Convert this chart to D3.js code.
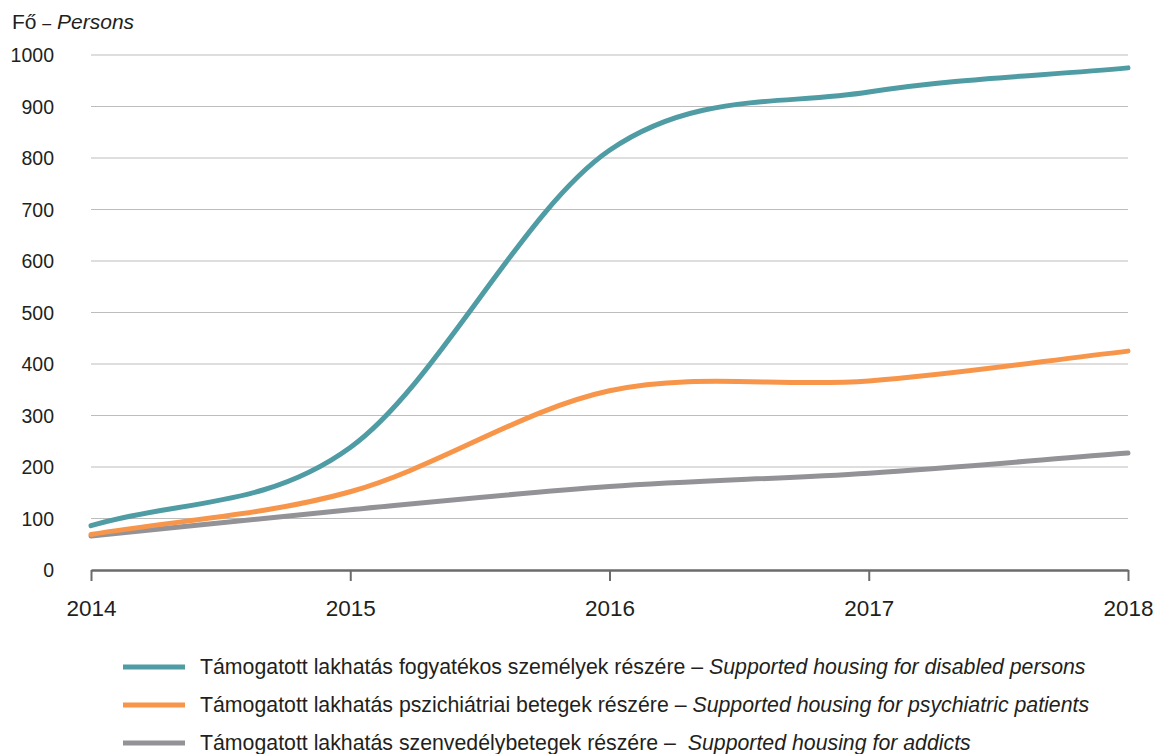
<!DOCTYPE html>
<html>
<head>
<meta charset="utf-8">
<script src="https://cdn.jsdelivr.net/npm/d3@7"></script>
<style>
  html, body { margin: 0; padding: 0; background: #fff; }
  svg { display: block; font-family: "Liberation Sans", Arial, sans-serif; }
</style>
</head>
<body>
<svg id="chart" width="1159" height="754"></svg>
<script>
const years = [2014, 2015, 2016, 2017, 2018];
const disabled = [86, 238, 815, 928, 975];
const psychiatric = [69, 152, 348, 367, 425];
const addicts = [66, 117, 162, 188, 227];
const yTicks = [0, 100, 200, 300, 400, 500, 600, 700, 800, 900, 1000];
const seriesNames = [
  ["Támogatott lakhatás fogyatékos személyek részére – ", "Supported housing for disabled persons"],
  ["Támogatott lakhatás pszichiátriai betegek részére – ", "Supported housing for psychiatric patients"],
  ["Támogatott lakhatás szenvedélybetegek részére –  ", "Supported housing for addicts"]
];
const colors = ["#4f9ca4", "#f7964a", "#939297"];

const svg = d3.select("#chart");
const x = d3.scaleLinear().domain([2014, 2018]).range([91, 1128]);
const y = d3.scaleLinear().domain([0, 1000]).range([570, 55]);

// Excel-like smoothing: Catmull-Rom inner tangents, chord tangents at ends
function excelCurve(context) {
  let pts = [];
  return {
    areaStart() {}, areaEnd() {},
    lineStart() { pts = []; },
    point(px, py) { pts.push([+px, +py]); },
    lineEnd() {
      const n = pts.length;
      if (!n) return;
      context.moveTo(pts[0][0], pts[0][1]);
      const get = i => {
        if (i < 0) return [2 * pts[0][0] - pts[1][0], 2 * pts[0][1] - pts[1][1]];
        if (i >= n) return [2 * pts[n - 1][0] - pts[n - 2][0], 2 * pts[n - 1][1] - pts[n - 2][1]];
        return pts[i];
      };
      for (let i = 0; i < n - 1; i++) {
        const p0 = get(i - 1), p1 = get(i), p2 = get(i + 1), p3 = get(i + 2);
        context.bezierCurveTo(
          p1[0] + (p2[0] - p0[0]) / 6, p1[1] + (p2[1] - p0[1]) / 6,
          p2[0] - (p3[0] - p1[0]) / 6, p2[1] - (p3[1] - p1[1]) / 6,
          p2[0], p2[1]);
      }
    }
  };
}

// gridlines
svg.append("g")
  .selectAll("line")
  .data(yTicks.filter(d => d > 0))
  .join("line")
  .attr("x1", x(2014)).attr("x2", x(2018))
  .attr("y1", d => y(d)).attr("y2", d => y(d))
  .attr("stroke", "#bdbdbd").attr("stroke-width", 1.2);

// y labels
svg.append("g")
  .selectAll("text")
  .data(yTicks)
  .join("text")
  .attr("x", 54).attr("y", d => y(d) + 7)
  .attr("text-anchor", "end")
  .attr("font-size", 19.5)
  .attr("fill", "#231f20")
  .text(d => d);

// x axis
const xAxis = d3.axisBottom(x).tickValues(years).tickFormat(d3.format("d")).tickSize(11).tickSizeOuter(0);
const gx = svg.append("g").attr("transform", `translate(0,${y(0)})`).call(xAxis);
gx.select(".domain").attr("stroke", "#6b6b6b").attr("stroke-width", 2.5);
gx.selectAll(".tick line").attr("stroke", "#6b6b6b").attr("stroke-width", 2);
gx.selectAll(".tick text").attr("font-size", 22.5).attr("fill", "#231f20")
  .attr("y", 46).attr("dy", 0)
  .attr("font-family", "Liberation Sans, Arial, sans-serif");

// lines
const line = d3.line().x((d, i) => x(years[i])).y(d => y(d)).curve(excelCurve);
const allSeries = [disabled, psychiatric, addicts];
svg.append("g")
  .selectAll("path")
  .data(allSeries.slice().reverse())
  .join("path")
  .attr("d", d => line(d))
  .attr("fill", "none")
  .attr("stroke", (d, i) => colors[2 - i])
  .attr("stroke-width", 5)
  .attr("stroke-linecap", "round");

// title
const title = svg.append("text").attr("x", 12).attr("y", 29).attr("font-size", 21).attr("fill", "#231f20");
title.append("tspan").text("Fő ");
title.append("tspan").attr("font-size", 16).text("–");
title.append("tspan").attr("font-style", "italic").text(" Persons");

// legend
const lg = svg.append("g");
seriesNames.forEach((nm, i) => {
  const ly = 667 + i * 38;
  lg.append("line").attr("x1", 123).attr("x2", 185).attr("y1", ly).attr("y2", ly)
    .attr("stroke", colors[i]).attr("stroke-width", 5);
  const t = lg.append("text").attr("x", 200).attr("y", ly + 7).attr("font-size", 21.3)
    .attr("fill", "#231f20").style("white-space", "pre");
  t.append("tspan").text(nm[0]);
  t.append("tspan").attr("font-style", "italic").text(nm[1]);
});
</script>
</body>
</html>
